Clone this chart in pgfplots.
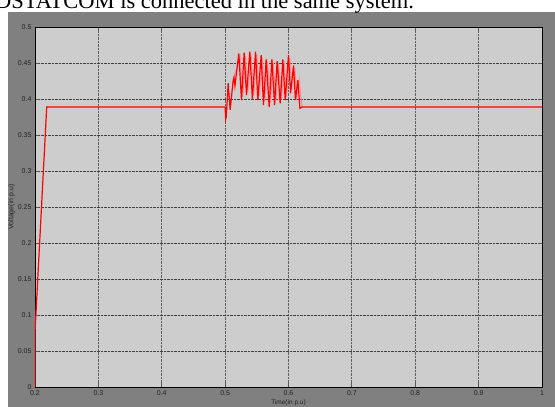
\documentclass[border=0pt]{standalone}
\usepackage{pgfplots}
\pgfplotsset{compat=1.18}
\usepackage{fontspec}
\setmainfont{Liberation Sans}
\newfontfamily\timesfont{Liberation Serif}
\definecolor{figgray}{RGB}{128,128,128}
\definecolor{axgray}{RGB}{205,205,205}
\definecolor{lblc}{RGB}{35,35,35}
\begin{document}
\begin{tikzpicture}[x=1pt,y=1pt]
\useasboundingbox (0,0) rectangle (555,407);
\clip (0,0) rectangle (555,407);
\fill[white] (0,0) rectangle (555,407);
\fill[figgray] (8,0) rectangle (555,395);
\node[anchor=base west, inner sep=0, font=\timesfont\fontsize{22.5}{24}\selectfont] at (-5,398) {DSTATCOM is connected in the same system.};
\begin{axis}[
  at={(35pt,20pt)}, anchor=south west,
  scale only axis, width=507pt, height=360pt,
  xmin=0.2, xmax=1, ymin=0, ymax=0.5,
  axis background/.style={fill=axgray},
  xtick={0.2,0.3,0.4,0.5,0.6,0.7,0.8,0.9,1},
  xticklabels={0.2,0.3,0.4,0.5,0.6,0.7,0.8,0.9,1},
  ytick={0,0.05,0.1,0.15,0.2,0.25,0.3,0.35,0.4,0.45,0.5},
  yticklabels={0,0.05,0.1,0.15,0.2,0.25,0.3,0.35,0.4,0.45,0.5},
  ticklabel style={font=\fontsize{7}{8}\selectfont, text=lblc},
  xticklabel style={yshift=-0.5pt},
  tick align=inside, major tick length=4pt,
  tick style={gray!70!black, line width=0.8pt},
  axis line style={black, line width=0.8pt},
  grid=major,
  major x grid style={densely dotted, gray!75!black, line width=0.8pt},
  major y grid style={densely dotted, black!75, line width=0.6pt},
  xlabel={Time(in p.u)},
  xlabel style={at={(axis description cs:0.5,-0.045)}, anchor=center, font=\fontsize{6.5}{7}\selectfont, text=lblc},
  ylabel={Voltage(in p.u)},
  ylabel style={at={(axis description cs:-0.046,0.5)}, anchor=center, font=\fontsize{7}{8}\selectfont, text=lblc},
  clip=true,
]
\addplot[red!45, line width=1.1pt] coordinates {
(0.5140,0.430) (0.5236,0.4589) (0.5278,0.4033) (0.5320,0.4596) (0.5357,0.4093)
(0.5410,0.4608) (0.5450,0.4045) (0.5500,0.4608) (0.5536,0.4033) (0.5589,0.4568)
(0.5625,0.3974) (0.5668,0.4518) (0.5715,0.3952) (0.5758,0.4518) (0.5800,0.3974)
(0.5841,0.4493) (0.5889,0.3994) (0.5931,0.4518) (0.5968,0.4033) (0.6020,0.4569)
(0.6052,0.4123) (0.6099,0.4440) (0.6130,0.4033) (0.6168,0.4278) (0.6200,0.3990)
(0.6216,0.389)
};
\addplot[red, line width=1.2pt] coordinates {
(0.2,0) (0.2002,0.08) (0.2185,0.389) (0.5,0.389) (0.5008,0.372) (0.5018,0.375)
(0.5048,0.422) (0.5080,0.385) (0.5127,0.426) (0.5140,0.430) (0.5155,0.418)
(0.5216,0.4634) (0.5258,0.3986) (0.5300,0.4643) (0.5337,0.4056) (0.5390,0.4657)
(0.5430,0.4000) (0.5480,0.4657) (0.5516,0.3986) (0.5569,0.4610) (0.5605,0.3917)
(0.5648,0.4550) (0.5695,0.3890) (0.5738,0.4550) (0.5780,0.3917) (0.5821,0.4527)
(0.5869,0.3940) (0.5911,0.4550) (0.5948,0.3986) (0.6000,0.4610) (0.6032,0.4080)
(0.6079,0.4465) (0.6110,0.3986) (0.6148,0.4262) (0.6180,0.3870) (0.6216,0.389)
(1.0,0.389)
};
\end{axis}
\end{tikzpicture}
\end{document}
